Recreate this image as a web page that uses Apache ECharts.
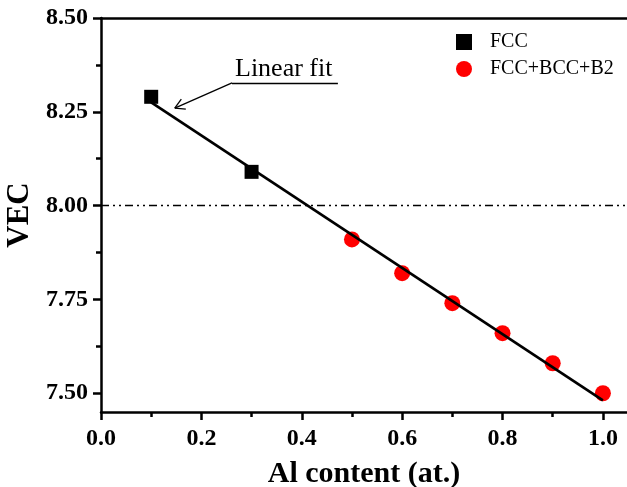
<!DOCTYPE html>
<html><head><meta charset="utf-8">
<script src="https://cdn.jsdelivr.net/npm/echarts@6/dist/echarts.min.js"></script>
<style>html,body{margin:0;padding:0;background:#fff}#c{width:627px;height:487px}</style>
</head><body><div id="c"></div>
<script>
const fccX = [0.1, 0.3];
const fccY = [8.29, 8.09];
const mixX = [0.5, 0.6, 0.7, 0.8, 0.9, 1.0];
const mixY = [7.91, 7.82, 7.74, 7.66, 7.58, 7.50];
const fitX = [0.1, 1.0];
const fitY = [8.275, 7.481];
const refY = 8.00;
const xTicks = [0, 0.2, 0.4, 0.6, 0.8, 1.0];
const xMinor = [0.1, 0.3, 0.5, 0.7, 0.9];
const yTicks = [7.5, 7.75, 8.0, 8.25, 8.5];
const yMinor = [7.625, 7.875, 8.125, 8.375];
const seriesNames = ['FCC', 'FCC+BCC+B2'];
const annoText = 'Linear fit';
// annotation geometry in data coordinates
const annoLine = [[0.472, 8.327], [0.261, 8.327]];
const arrowLine = [[0.261, 8.327], [0.147, 8.26]];
const arrowWings = [[[0.147, 8.26], [0.169, 8.257]], [[0.147, 8.26], [0.160, 8.284]]];

const FONT = 'Liberation Serif, Times New Roman, serif';
const pair = (xs, ys) => xs.map((x, i) => [x, ys[i]]);
const chart = echarts.init(document.getElementById('c'), null, {renderer: 'canvas'});
const XMIN = 0, XMAX = 1.048, YMIN = 7.45, YMAX = 8.5;
const segs = [annoLine, arrowLine, ...arrowWings].map(s => [{coord: s[0]}, {coord: s[1]}]);

chart.setOption({
  animation: false,
  backgroundColor: '#fff',
  grid: {left: 101, top: 18, right: 0, bottom: 75, containLabel: false, outerBoundsMode: 'none'},
  legend: {
    orient: 'vertical', left: 451, top: 27, itemWidth: 16, itemHeight: 16, itemGap: 7,
    data: seriesNames,
    textStyle: {fontFamily: FONT, fontSize: 20, color: '#000', padding: [0, 0, 0, 13]}
  },
  xAxis: [
    {type: 'value', min: XMIN, max: XMAX, position: 'bottom',
     name: 'Al content (at.)', nameLocation: 'middle', nameGap: 47,
     nameTextStyle: {fontFamily: FONT, fontSize: 30, fontWeight: 'bold', color: '#000'},
     axisLine: {show: true, onZero: false, lineStyle: {color: '#000', width: 2.5}},
     axisTick: {show: true, length: 8, customValues: xTicks, lineStyle: {color: '#000', width: 2.5}},
     axisLabel: {customValues: xTicks, margin: 15, fontFamily: FONT, fontSize: 24, fontWeight: 'bold', color: '#000', formatter: v => v.toFixed(1)},
     splitLine: {show: false}},
    {type: 'value', min: XMIN, max: XMAX, position: 'bottom',
     axisLine: {show: false, onZero: false},
     axisTick: {show: true, length: 5, customValues: xMinor, lineStyle: {color: '#000', width: 2.5}},
     axisLabel: {show: false}, splitLine: {show: false}},
    {type: 'value', min: XMIN, max: XMAX, position: 'top',
     axisLine: {show: true, onZero: false, lineStyle: {color: '#000', width: 2.5}},
     axisTick: {show: false}, axisLabel: {show: false}, splitLine: {show: false}}
  ],
  yAxis: [
    {type: 'value', min: YMIN, max: YMAX, position: 'left',
     name: 'VEC', nameLocation: 'middle', nameGap: 64, nameRotate: 90,
     nameTextStyle: {fontFamily: FONT, fontSize: 31, fontWeight: 'bold', color: '#000'},
     axisLine: {show: true, onZero: false, lineStyle: {color: '#000', width: 2.5}},
     axisTick: {show: true, length: 8, customValues: yTicks, lineStyle: {color: '#000', width: 2.5}},
     axisLabel: {customValues: yTicks, margin: 13, fontFamily: FONT, fontSize: 24, fontWeight: 'bold', color: '#000', formatter: v => v.toFixed(2)},
     splitLine: {show: false}},
    {type: 'value', min: YMIN, max: YMAX, position: 'left',
     axisLine: {show: false, onZero: false},
     axisTick: {show: true, length: 5, customValues: yMinor, lineStyle: {color: '#000', width: 2.5}},
     axisLabel: {show: false}, splitLine: {show: false}}
  ],
  series: [
    {name: seriesNames[1], type: 'scatter', symbol: 'circle', symbolSize: 16, z: 2,
     itemStyle: {color: '#ff0000', opacity: 1}, data: pair(mixX, mixY)},
    {name: 'fit', type: 'line', z: 3, symbol: 'none', silent: true,
     lineStyle: {color: '#000', width: 2.7}, data: pair(fitX, fitY),
     markLine: {silent: true, symbol: ['none', 'none'], label: {show: false},
       lineStyle: {color: '#000', width: 1.3, type: 'solid'},
       data: segs}},
    {name: 'ref', type: 'line', z: 1, symbol: 'none', silent: true, data: [],
     markLine: {silent: true, symbol: ['none', 'none'], label: {show: false},
       lineStyle: {color: '#000', width: 1.3, type: [8, 4, 2, 4, 2, 4]},
       data: [{yAxis: refY}]}},
    {name: seriesNames[0], type: 'scatter', symbol: 'rect', symbolSize: 14, z: 4,
     itemStyle: {color: '#000', opacity: 1}, data: pair(fccX, fccY)}
  ]
});
const p = chart.convertToPixel({xAxisIndex: 0, yAxisIndex: 0}, [0.265, 8.327]);
chart.setOption({
  graphic: [{type: 'text', x: p[0] + 1, y: p[1] - 14, z: 10,
    style: {text: annoText, fill: '#000', font: '26px ' + FONT, textAlign: 'left', textVerticalAlign: 'middle'}}]
});
</script></body></html>
